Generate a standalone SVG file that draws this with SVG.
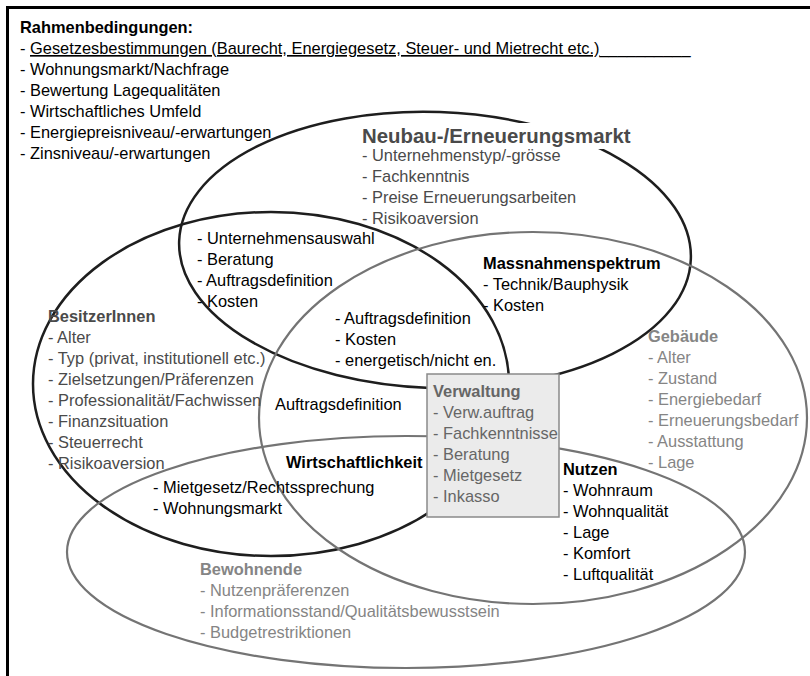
<svg xmlns="http://www.w3.org/2000/svg" width="810" height="676" viewBox="0 0 810 676">
<style>
text { font-family: "Liberation Sans", Arial, sans-serif; font-size: 16.4px; }
.b { font-weight: bold; }
.k { fill: #000; }
.d { fill: #4a4a4a; }
.g { fill: #858585; }
.v { fill: #666; }
.dark { fill: none; stroke: #1e1e1e; stroke-width: 2.5; }
.gray { fill: none; stroke: #747474; stroke-width: 2.2; }
</style>
<rect width="810" height="676" fill="#fff"/>
<rect id="frame" x="7.5" y="7.5" width="1000" height="1000" fill="none" stroke="#000" stroke-width="3"/>

<g id="connectors">
  <ellipse id="e-neubau" class="dark" cx="435" cy="250" rx="256" ry="138" transform="rotate(2 435 250)"/>
  <ellipse id="e-besitzer" class="dark" cx="271" cy="384" rx="238" ry="172"/>
  <ellipse id="e-gebaeude" class="gray" cx="533" cy="418" rx="274" ry="186"/>
  <ellipse id="e-bewohnende" class="gray" cx="406" cy="552" rx="339" ry="116"/>
</g>

<g id="rahmen">
  <text class="b k" x="20" y="33">Rahmenbedingungen:</text>
  <text class="k" x="20" y="54">- <tspan style="text-decoration:underline">Gesetzesbestimmungen (Baurecht, Energiegesetz, Steuer- und Mietrecht etc.)</tspan>__________</text>
  <text class="k" x="20" y="75">- Wohnungsmarkt/Nachfrage</text>
  <text class="k" x="20" y="96">- Bewertung Lagequalitäten</text>
  <text class="k" x="20" y="117">- Wirtschaftliches Umfeld</text>
  <text class="k" x="20" y="138">- Energiepreisniveau/-erwartungen</text>
  <text class="k" x="20" y="159">- Zinsniveau/-erwartungen</text>
</g>

<g id="neubau">
  <rect x="357" y="123" width="282" height="26" fill="#fff"/>
  <text class="b d" x="362" y="143" style="font-size:20.4px">Neubau-/Erneuerungsmarkt</text>
  <text class="d" x="362" y="161">- Unternehmenstyp/-grösse</text>
  <text class="d" x="362" y="182">- Fachkenntnis</text>
  <text class="d" x="362" y="203">- Preise Erneuerungsarbeiten</text>
  <text class="d" x="362" y="224">- Risikoaversion</text>
</g>

<g id="neubau-besitzer">
  <text class="k" x="197" y="244">- Unternehmensauswahl</text>
  <text class="k" x="197" y="265">- Beratung</text>
  <text class="k" x="197" y="286">- Auftragsdefinition</text>
  <text class="k" x="197" y="307">- Kosten</text>
</g>

<g id="massnahmen">
  <text class="b k" x="483" y="269">Massnahmenspektrum</text>
  <text class="k" x="483" y="290">- Technik/Bauphysik</text>
  <text class="k" x="483" y="311">- Kosten</text>
</g>

<g id="besitzer">
  <text class="b d" x="48" y="322">BesitzerInnen</text>
  <text class="d" x="48" y="343">- Alter</text>
  <text class="d" x="48" y="364">- Typ (privat, institutionell etc.)</text>
  <text class="d" x="48" y="385">- Zielsetzungen/Präferenzen</text>
  <text class="d" x="48" y="406">- Professionalität/Fachwissen</text>
  <text class="d" x="48" y="427">- Finanzsituation</text>
  <text class="d" x="48" y="448">- Steuerrecht</text>
  <text class="d" x="48" y="469">- Risikoaversion</text>
</g>

<g id="kern">
  <text class="k" x="335" y="324">- Auftragsdefinition</text>
  <text class="k" x="335" y="345">- Kosten</text>
  <text class="k" x="335" y="366">- energetisch/nicht en.</text>
</g>

<g id="auftrag">
  <text class="k" x="275" y="410">Auftragsdefinition</text>
</g>

<g id="wirtschaftlichkeit">
  <text class="b k" x="286" y="468">Wirtschaftlichkeit</text>
  <text class="k" x="153" y="493">- Mietgesetz/Rechtssprechung</text>
  <text class="k" x="153" y="514">- Wohnungsmarkt</text>
</g>

<g id="gebaeude">
  <text class="b g" x="648" y="342">Gebäude</text>
  <text class="g" x="648" y="363">- Alter</text>
  <text class="g" x="648" y="384">- Zustand</text>
  <text class="g" x="648" y="405">- Energiebedarf</text>
  <text class="g" x="648" y="426">- Erneuerungsbedarf</text>
  <text class="g" x="648" y="447">- Ausstattung</text>
  <text class="g" x="648" y="468">- Lage</text>
</g>

<g id="verwaltung">
  <rect x="427" y="374" width="132" height="143" fill="#ebebeb" stroke="#8a8a8a" stroke-width="1.5"/>
  <text class="b v" x="433" y="397">Verwaltung</text>
  <text class="v" x="433" y="418">- Verw.auftrag</text>
  <text class="v" x="433" y="439">- Fachkenntnisse</text>
  <text class="v" x="433" y="460">- Beratung</text>
  <text class="v" x="433" y="481">- Mietgesetz</text>
  <text class="v" x="433" y="502">- Inkasso</text>
</g>

<g id="nutzen">
  <text class="b k" x="563" y="475">Nutzen</text>
  <text class="k" x="563" y="496">- Wohnraum</text>
  <text class="k" x="563" y="517">- Wohnqualität</text>
  <text class="k" x="563" y="538">- Lage</text>
  <text class="k" x="563" y="559">- Komfort</text>
  <text class="k" x="563" y="580">- Luftqualität</text>
</g>

<g id="bewohnende">
  <text class="b g" x="200" y="575">Bewohnende</text>
  <text class="g" x="200" y="596">- Nutzenpräferenzen</text>
  <text class="g" x="200" y="617">- Informationsstand/Qualitätsbewusstsein</text>
  <text class="g" x="200" y="638">- Budgetrestriktionen</text>
</g>
</svg>
